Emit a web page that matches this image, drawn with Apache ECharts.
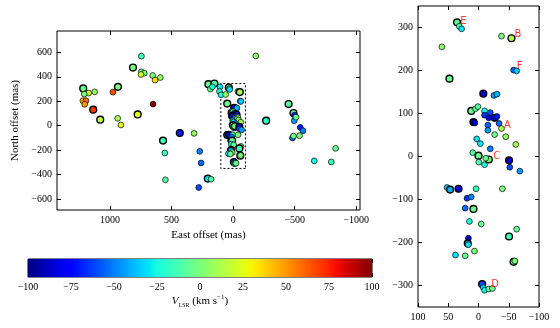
<!DOCTYPE html>
<html>
<head>
<meta charset="utf-8">
<script src="https://cdn.jsdelivr.net/npm/echarts@6/dist/echarts.min.js"></script>
<style>html,body{margin:0;padding:0;background:#fff}#main{width:560px;height:328px}</style>
</head>
<body>
<div id="main"></div>
<script>
// maser spots: [east offset, north offset, vlsr, bright flag]
var outerSpots = [
  [745, 569, -15, 0], [813, 476, 0, 1], [745, 441, -5, 0], [721, 430, 0, 0],
  [748, 419, 20, 0], [653, 411, 0, 0], [591, 394, 5, 0], [634, 373, 35, 0],
  [1217, 305, -5, 1], [1173, 267, 20, 0], [1124, 277, 5, 0], [1209, 259, 0, 0],
  [935, 318, 0, 1], [976, 275, 65, 0], [1220, 204, 45, 0], [1195, 205, 60, 0],
  [1205, 175, 50, 0], [650, 177, 100, 0], [1136, 131, 70, 1], [1079, 49, 15, 1],
  [937, 60, 10, 0], [911, 6, 25, 0], [775, 92, 25, 1],
  [433, -60, -70, 1], [317, -63, 5, 0], [569, -122, -15, 1], [555, -223, -15, 0],
  [550, -443, -10, 0], [271, -210, -50, 0], [260, -305, -55, 0], [279, -506, -60, 0],
  [206, -433, -30, 1], [179, -438, -10, 0],
  [201, 340, -5, 1], [152, 345, -10, 1], [185, 300, -5, 0], [168, 318, -25, 0],
  [106, 318, -30, 0], [111, 280, -20, 0], [98, 253, -25, 0],
  [-184, 571, 5, 0], [-268, 41, -20, 1],
  [-450, 177, -10, 1], [-490, 104, -5, 1], [-499, 87, -70, 0], [-496, 41, -45, 0],
  [-510, 70, -5, 0], [-545, -14, -70, 0], [-567, -41, -50, 0], [-482, -100, -55, 0],
  [-490, -85, -5, 0], [-539, -82, 0, 0],
  [-659, -288, -25, 0], [-797, -297, -15, 0], [-832, -185, -5, 0]
];
// spots inside the dashed box (also shown in the zoom panel)
var innerSpots = [
  [35.5, 312, -5, 1], [31.7, 303, -10, 0], [28, 297, -30, 0], [60.5, 255, 5, 0],
  [48, 181, -5, 1], [-38, 280, 0, 0], [-54.5, 275, 10, 1], [-58, 201, -55, 0],
  [-63, 199, -35, 0], [-8, 146, -85, 1], [-25.5, 142, -45, 0], [-30.5, 145, -40, 0],
  [12, 106, -5, 1], [5, 111, -5, 0], [1, 116, -10, 0], [-10, 106, -25, 0],
  [-19.5, 102, -60, 0], [-10, 96, -65, 0], [-17, 90, -80, 0], [-26.7, 90, -85, 1],
  [-30.5, 93, -70, 0], [8.3, 80, -80, 1], [6, 78, -85, 0], [-15.5, 73, -55, 0],
  [-34, 77, -55, 0], [-15.5, 61, -45, 0], [-38, 65, 10, 0], [-26.7, 51, -5, 0],
  [-45, 46, 5, 0], [-61.7, 28, 10, 0], [3, 41, -30, 0], [-3, 30, -30, 0],
  [-19.5, 18, -50, 0], [9.5, 9, -10, 0], [0, 2, -5, 1], [-0.5, -13, -10, 0],
  [-10, -19, -25, 0], [-17, -7, 0, 1], [-12, -4, -5, 0], [-50.5, -9, -85, 1],
  [-51.7, -25, -60, 0], [-68.3, -34, -45, 0], [52, -72, -35, 0], [47, -77, -40, 1],
  [33, -75, -85, 1], [4, -75, -15, 0], [-39.5, -75, 0, 0], [19, -97, -65, 0],
  [12, -94, -50, 0], [22, -120, -55, 0], [8.3, -122, -5, 1], [15, -151, -25, 0],
  [-4.5, -157, -5, 0], [-63, -169, -5, 0], [-50.5, -186, -15, 1], [16.7, -190, -85, 0],
  [17.8, -202, -45, 1], [17, -205, -30, 0], [6.7, -220, 0, 0], [38, -229, -30, 0],
  [22, -231, -5, 0], [-58, -245, -5, 1], [-60, -243, 0, 0], [-6, -297, -60, 1],
  [-8, -305, -30, 0], [-10, -311, -25, 0], [-17, -308, -5, 0], [-23, -307, -5, 0]
];
var tagNames = ['A', 'B', 'C', 'D', 'E', 'F'];
var tagPos = [[-48, 72], [-65, 283], [-30, 0], [-27.5, -297], [25, 314], [-68, 210]];
var boxX = [-100, 100];
var boxY = [-350, 345];
var leftXTicks = [-1000, -500, 0, 500, 1000];
var leftYTicks = [-600, -400, -200, 0, 200, 400, 600];
var zoomYTicks = [-300, -200, -100, 0, 100, 200, 300];
var vRange = [-100, 100];

// matplotlib jet
var jetR = [[0, 0], [0.35, 0], [0.66, 1], [0.89, 1], [1, 0.5]];
var jetG = [[0, 0], [0.125, 0], [0.375, 1], [0.64, 1], [0.91, 0], [1, 0]];
var jetB = [[0, 0.5], [0.11, 1], [0.34, 1], [0.65, 0], [1, 0]];
function interp(pts, t) {
    for (var i = 1; i < pts.length; i++) {
        if (t <= pts[i][0]) {
            var a = pts[i - 1], b = pts[i];
            return a[1] + (b[1] - a[1]) * (t - a[0]) / (b[0] - a[0]);
        }
    }
    return pts[pts.length - 1][1];
}
function jet(t) {
    return 'rgb(' + Math.round(255 * interp(jetR, t)) + ',' + Math.round(255 * interp(jetG, t)) + ',' + Math.round(255 * interp(jetB, t)) + ')';
}
var jetColors = [], jetStops = [];
for (var i = 0; i <= 40; i++) {
    jetColors.push(jet(i / 40));
    jetStops.push({offset: i / 40, color: jet(i / 40)});
}

function toItems(pts) {
    return pts.map(function (p) {
        return {value: [p[0], p[1], p[2]], symbolSize: p[3] ? 6.8 : 5.8,
            itemStyle: {borderWidth: p[3] ? 1.4 : 0.7}};
    });
}
function minus(v) { return String(v).replace('-', '\u2212'); }

var serif = 'Liberation Serif';
var lbl = {fontFamily: serif, fontSize: 10, color: '#000'};
var tick = {inside: true, length: 4, lineStyle: {color: '#000'}};

function valAxis(o) {
    var a = {
        type: 'value', splitLine: {show: false}, axisLine: {show: false, onZero: false},
        axisTick: Object.assign({}, tick), axisLabel: Object.assign({formatter: minus, margin: 5}, lbl),
        nameTextStyle: {fontFamily: serif, fontSize: 11, color: '#000'}
    };
    return Object.assign(a, o);
}
function mirror(base, pos) {
    var m = Object.assign({}, base, {position: pos, name: ''});
    m.axisLabel = Object.assign({}, base.axisLabel, {show: false});
    return m;
}

var lx = valAxis({gridIndex: 0, min: -1030, max: 1430, inverse: true,
    name: 'East offset (mas)', nameLocation: 'middle', nameGap: 19});
lx.axisTick.customValues = leftXTicks; lx.axisLabel.customValues = leftXTicks;
var ly = valAxis({gridIndex: 0, min: -690, max: 775,
    name: 'North offset (mas)', nameLocation: 'middle', nameGap: 33});
ly.axisTick.customValues = leftYTicks; ly.axisLabel.customValues = leftYTicks;
var rx = valAxis({gridIndex: 1, min: -100, max: 100, interval: 50, inverse: true});
var ry = valAxis({gridIndex: 1, min: -350, max: 350});
ry.axisTick.customValues = zoomYTicks; ry.axisLabel.customValues = zoomYTicks;
var cx = valAxis({gridIndex: 2, min: vRange[0], max: vRange[1], interval: 25,
    name: '{i|V}{sub|LSR} (km s{sup|\u22121})', nameLocation: 'middle', nameGap: 17});
cx.nameTextStyle = {fontFamily: serif, fontSize: 11, color: '#000', lineHeight: 14,
    rich: {i: {fontStyle: 'italic', fontFamily: serif, fontSize: 11, lineHeight: 14},
           sub: {fontFamily: serif, fontSize: 6, verticalAlign: 'bottom', lineHeight: 14, padding: [2, 0, 0, 0]},
           sup: {fontFamily: serif, fontSize: 7, verticalAlign: 'top', lineHeight: 14, padding: [0, 0, 3, 0]}}};
var cy = {type: 'value', gridIndex: 2, min: 0, max: 1, show: false};

var myChart = echarts.init(document.getElementById('main'));
var option = {
    animation: false,
    backgroundColor: '#fff',
    grid: [
        {left: 57, top: 31, width: 303, height: 179, show: true, borderColor: '#000', borderWidth: 1},
        {left: 418, top: 6, width: 121, height: 301, show: true, borderColor: '#000', borderWidth: 1},
        {left: 28, top: 259, width: 344, height: 18, show: true, borderColor: '#000', borderWidth: 1}
    ],
    xAxis: [lx, mirror(lx, 'top'), rx, mirror(rx, 'top'), cx, mirror(cx, 'top')],
    yAxis: [ly, mirror(ly, 'right'), ry, mirror(ry, 'right'), cy],
    visualMap: {
        type: 'continuous', show: false, seriesIndex: [0, 1], dimension: 2,
        min: vRange[0], max: vRange[1], inRange: {color: jetColors}
    },
    series: [
        {
            type: 'scatter', xAxisIndex: 0, yAxisIndex: 0,
            data: toItems(outerSpots.concat(innerSpots)),
            itemStyle: {borderColor: '#000', opacity: 1},
            markArea: {
                silent: true,
                itemStyle: {color: 'rgba(0,0,0,0)', borderColor: '#000', borderWidth: 1, borderType: [2, 2]},
                data: [[{coord: [boxX[0], boxY[0]]}, {coord: [boxX[1], boxY[1]]}]]
            }
        },
        {
            type: 'scatter', xAxisIndex: 2, yAxisIndex: 2,
            data: toItems(innerSpots),
            itemStyle: {borderColor: '#000', opacity: 1}
        },
        {
            type: 'scatter', xAxisIndex: 2, yAxisIndex: 2, symbolSize: 0, z: 5,
            data: tagPos.map(function (p, k) { return {name: tagNames[k], value: p}; }),
            label: {show: true, position: 'inside', formatter: '{b}', color: '#ff0000',
                fontFamily: 'DejaVu Sans', fontSize: 10}
        },
        {
            type: 'custom', xAxisIndex: 4, yAxisIndex: 4, silent: true,
            data: [[vRange[0], vRange[1]]],
            renderItem: function (params, api) {
                var p0 = api.coord([api.value(0), 0]);
                var p1 = api.coord([api.value(1), 1]);
                return {
                    type: 'rect',
                    shape: {x: p0[0], y: p1[1], width: p1[0] - p0[0], height: p0[1] - p1[1]},
                    style: {fill: new echarts.graphic.LinearGradient(0, 0, 1, 0, jetStops)}
                };
            }
        }
    ]
};
myChart.setOption(option);
</script>
</body>
</html>
